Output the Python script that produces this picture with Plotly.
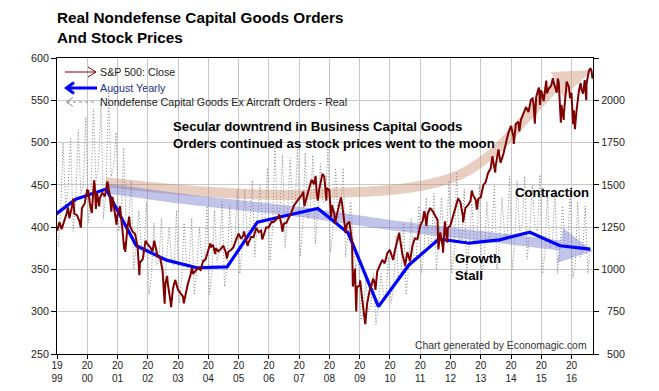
import plotly.graph_objects as go
import pandas as pd

# ---------------- data ----------------
years = list(range(1999, 2017))
year_tick_labels = [f"{str(y)[:2]}<br>{str(y)[2:]}" for y in years]

# S&P 500 month-end closes, Jan 1999 .. Aug 2016
sp_close = [
    1279.6, 1238.3, 1286.4, 1335.2, 1301.8, 1372.7, 1328.7, 1320.4, 1282.7, 1362.9, 1388.9, 1469.3,
    1394.5, 1366.4, 1498.6, 1452.4, 1420.6, 1454.6, 1430.8, 1517.7, 1436.5, 1429.4, 1315.2, 1320.3,
    1366.0, 1239.9, 1160.3, 1249.5, 1255.8, 1224.4, 1211.2, 1133.6, 1040.9, 1059.8, 1139.5, 1148.1,
    1130.2, 1106.7, 1147.4, 1076.9, 1067.1, 989.8, 911.6, 916.1, 815.3, 885.8, 936.3, 879.8,
    855.7, 841.2, 848.2, 916.9, 963.6, 974.5, 990.3, 1008.0, 996.0, 1050.7, 1058.2, 1111.9,
    1131.1, 1144.9, 1126.2, 1107.3, 1120.7, 1140.8, 1101.7, 1104.2, 1114.6, 1130.2, 1173.8, 1211.9,
    1181.3, 1203.6, 1180.6, 1156.9, 1191.5, 1191.3, 1234.2, 1220.3, 1228.8, 1207.0, 1249.5, 1248.3,
    1280.1, 1280.7, 1294.9, 1310.6, 1270.1, 1270.2, 1276.7, 1303.8, 1335.9, 1377.9, 1400.6, 1418.3,
    1438.2, 1406.8, 1420.9, 1482.4, 1530.6, 1503.4, 1455.3, 1474.0, 1527.0, 1549.4, 1481.1, 1468.4,
    1378.6, 1330.6, 1322.7, 1385.6, 1400.4, 1280.0, 1267.4, 1282.8, 1166.4, 968.8, 896.2, 903.3,
    825.9, 735.1, 797.9, 872.8, 919.1, 919.3, 987.5, 1020.6, 1057.1, 1036.2, 1095.6, 1115.1,
    1073.9, 1104.5, 1169.4, 1186.7, 1089.4, 1030.7, 1101.6, 1049.3, 1141.2, 1183.3, 1180.6, 1257.6,
    1286.1, 1327.2, 1325.8, 1363.6, 1345.2, 1320.6, 1292.3, 1218.9, 1131.4, 1253.3, 1247.0, 1257.6,
    1312.4, 1365.7, 1408.5, 1397.9, 1310.3, 1362.2, 1379.3, 1406.6, 1440.7, 1412.2, 1416.2, 1426.2,
    1498.1, 1514.7, 1569.2, 1597.6, 1630.7, 1606.3, 1685.7, 1633.0, 1681.6, 1756.5, 1805.8, 1848.4,
    1782.6, 1859.5, 1872.3, 1883.9, 1923.6, 1960.2, 1930.7, 2003.4, 1972.3, 2018.1, 2067.6, 2058.9,
    1995.0, 2104.5, 2067.9, 2085.5, 2107.4, 2063.1, 2104.0, 1972.2, 1920.0, 2079.4, 2080.4, 2043.9,
    1940.2, 1932.2, 2059.7, 2065.3, 2096.9, 2098.9, 2173.6, 2170.9,
]

# intra-month turning points of the S&P 500
sp_turn_dates = [
    "1999-01-04", "1999-05-13", "1999-07-16", "1999-10-15", "2000-01-14", "2000-02-25",
    "2000-03-24", "2000-04-14", "2000-05-24", "2000-09-01", "2000-10-18", "2000-12-20",
    "2001-01-30", "2001-03-22", "2001-04-04", "2001-05-21", "2001-09-21", "2001-12-05",
    "2002-03-19", "2002-07-23", "2002-08-22", "2002-10-09", "2002-11-27", "2003-03-11",
    "2003-06-17", "2004-01-26", "2004-03-24", "2004-08-12", "2005-03-07", "2005-04-20",
    "2005-08-02", "2005-10-13", "2006-05-05", "2006-06-13", "2007-02-20", "2007-03-05",
    "2007-07-19", "2007-08-15", "2007-10-09", "2007-11-26", "2008-01-22", "2008-03-10",
    "2008-05-19", "2008-07-15", "2008-10-10", "2008-11-04", "2008-11-20", "2009-01-06",
    "2009-03-09", "2009-06-12", "2009-07-10", "2010-02-08", "2010-04-23", "2010-07-02",
    "2011-02-18", "2011-03-16", "2011-04-29", "2011-08-08", "2011-10-03", "2011-10-27",
    "2011-11-25", "2012-04-02", "2012-06-01", "2012-09-14", "2012-11-15", "2013-05-21",
    "2013-06-24", "2013-08-02", "2013-08-27", "2014-02-03", "2014-04-11", "2014-09-18",
    "2014-10-15", "2014-12-05", "2014-12-16", "2015-03-02", "2015-03-11", "2015-05-21",
    "2015-07-07", "2015-07-20", "2015-08-25", "2015-09-29", "2015-11-03", "2015-12-14",
    "2016-01-20", "2016-02-11", "2016-04-20", "2016-05-19", "2016-06-08", "2016-06-27",
    "2016-08-15", "2016-09-09", "2016-09-15",
]
sp_turn_values = [
    1228, 1367, 1418, 1247, 1465, 1333,
    1527, 1357, 1373, 1520, 1342, 1264,
    1373, 1117, 1103, 1312, 966, 1170,
    1170, 797, 962, 777, 938, 800,
    1011, 1155, 1091, 1064, 1225, 1138,
    1245, 1177, 1325, 1223, 1460, 1374,
    1553, 1407, 1565, 1407, 1310, 1273,
    1426, 1214, 899, 1005, 752, 935,
    677, 946, 879, 1056, 1217, 1022,
    1343, 1257, 1364, 1119, 1099, 1285,
    1159, 1419, 1278, 1466, 1353, 1669,
    1573, 1710, 1631, 1742, 1816, 2011,
    1862, 2075, 1973, 2117, 2041, 2131,
    2045, 2128, 1867, 1884, 2110, 2012,
    1859, 1829, 2102, 2040, 2119, 2001,
    2190, 2128, 2147,
]

# Nondefense capital goods ex aircraft orders - real, monthly Jan 1999 .. Aug 2016
orders_real = [
    378, 420, 500, 425, 445, 505, 395, 433, 515, 440, 450, 530,
    405, 445, 540, 455, 470, 548, 410, 445, 560, 460, 470, 512,
    395, 410, 494, 400, 405, 455, 350, 378, 420, 375, 365, 430,
    320, 345, 405, 355, 360, 410, 325, 361, 400, 360, 355, 420,
    310, 340, 405, 350, 355, 410, 320, 352, 400, 360, 358, 425,
    320, 350, 420, 360, 370, 430, 330, 353, 425, 375, 380, 445,
    345, 380, 445, 390, 400, 455, 365, 406, 450, 405, 410, 470,
    360, 400, 495, 410, 420, 485, 375, 414, 482, 425, 430, 500,
    365, 405, 488, 410, 420, 485, 380, 422, 475, 430, 430, 495,
    370, 400, 470, 410, 415, 470, 365, 393, 430, 380, 350, 370,
    290, 300, 340, 300, 305, 345, 285, 306, 345, 320, 320, 365,
    310, 330, 390, 340, 345, 405, 320, 355, 410, 360, 365, 425,
    345, 370, 435, 375, 380, 440, 350, 386, 435, 385, 390, 455,
    345, 370, 465, 385, 385, 445, 345, 381, 430, 380, 380, 450,
    340, 365, 430, 385, 390, 450, 350, 385, 435, 390, 390, 460,
    350, 380, 455, 395, 400, 460, 362, 394, 450, 400, 395, 462,
    345, 370, 440, 375, 380, 445, 345, 378, 425, 380, 375, 445,
    340, 355, 430, 365, 370, 425, 345, 374,
]

# August value of each year
aug_years = list(range(1998, 2017))
aug_values = [406, 433, 445, 378, 361, 352, 353, 406, 414, 422, 393, 306,
              355, 386, 381, 385, 394, 378, 374]

# hand-drawn trend arrows (decoration), left-axis units
tan_band_dates = ["2000-08-12", "2003-06-26", "2006-10-16", "2008-01-04", "2009-12-31",
                  "2011-04-25", "2012-04-22", "2013-05-27", "2014-07-09", "2015-07-08"]
tan_band_values = [453, 443, 438, 440, 444, 451, 462, 488, 530, 568.7]
tan_head_dates = ["2015-04-27", "2016-09-16", "2015-09-20"]
tan_head_values = [583.4, 585.8, 553.9]

blue_band_dates = ["2000-08-12", "2003-06-26", "2006-10-16", "2010-04-28", "2013-08-19",
                   "2015-08-14"]
blue_band_values = [446, 432, 419, 401, 387, 378.3]
blue_head_dates = ["2015-09-20", "2016-09-16", "2015-07-08"]
blue_head_values = [399.0, 371.8, 357.6]

# ---------------- build ----------------
FONT = "Liberation Sans, Arial, sans-serif"
sp_dates_monthly = pd.date_range("1999-01-01", periods=len(sp_close), freq="BME")
sp = pd.concat([
    pd.Series(sp_close, index=sp_dates_monthly),
    pd.Series(sp_turn_values, index=pd.to_datetime(sp_turn_dates)),
]).sort_index()

order_dates = pd.date_range("1999-01-01", periods=len(orders_real), freq="MS") + pd.Timedelta(days=14)
aug_dates = pd.to_datetime([f"{y}-08-15" for y in aug_years])

fig = go.Figure()

fig.add_trace(go.Scatter(
    x=order_dates, y=orders_real, mode="lines",
    line=dict(color="#858585", width=1, dash="1px,2px"), yaxis="y",
    name="Nondefense Capital Goods Ex Aircraft Orders - Real"))

def band(dates, values, head_dates, head_values, color, width):
    fig.add_trace(go.Scatter(
        x=pd.to_datetime(dates), y=values, mode="lines",
        line=dict(color=color, width=width, shape="spline", smoothing=1.0),
        opacity=0.42, yaxis="y", hoverinfo="skip", cliponaxis=False))
    fig.add_trace(go.Scatter(
        x=pd.to_datetime(head_dates), y=head_values, mode="lines", fill="toself",
        fillcolor=color, line=dict(width=0, color=color),
        opacity=0.42, yaxis="y", hoverinfo="skip", cliponaxis=False))

band(tan_band_dates, tan_band_values, tan_head_dates, tan_head_values, "rgb(200,140,110)", 10)
band(blue_band_dates, blue_band_values, blue_head_dates, blue_head_values, "rgb(110,115,205)", 10)

fig.add_trace(go.Scatter(
    x=sp.index, y=sp.values, mode="lines",
    line=dict(color="#800000", width=2), yaxis="y2", name="S&P 500: Close"))

fig.add_trace(go.Scatter(
    x=aug_dates, y=aug_values, mode="lines",
    line=dict(color="#0000ff", width=3.2), yaxis="y", name="August Yearly"))

# page body adds an 8px offset; target window positions of the plot box
OFF = 8
L, R, T, B = 57, 593, 58, 354
W, H = 659 - OFF, 391 - OFF

def PX(x):
    return (x - L) / (R - L)
def PY(y):
    return (B - y) / (B - T)

shapes = []
def seg(x0, y0, x1, y1, color, width, dash="solid"):
    shapes.append(dict(type="line", xref="paper", yref="paper",
                       x0=PX(x0), y0=PY(y0), x1=PX(x1), y1=PY(y1),
                       line=dict(color=color, width=width, dash=dash)))
def vee(pts, color, width):
    p = " L ".join(f"{PX(a):.5f},{PY(b):.5f}" for a, b in pts)
    shapes.append(dict(type="path", xref="paper", yref="paper", path="M " + p,
                       line=dict(color=color, width=width)))

seg(65, 72, 96, 72, "#800000", 1)
vee([(88, 67), (96, 72), (88, 77)], "#800000", 1)
seg(67, 88, 97, 88, "#0000ff", 3)
vee([(74, 82.5), (66.5, 88), (74, 93.5)], "#0000ff", 3)
seg(67, 102, 97, 102, "#8a8a8a", 1, "dot")
vee([(73, 97.5), (66.5, 102), (73, 106.5)], "#8a8a8a", 1)

ann = []
def text(x, y, s, size, color="#111", bold=False, xanchor="left", align="left", yanchor="middle"):
    ann.append(dict(xref="paper", yref="paper", x=PX(x), y=PY(y), text=(f"<b>{s}</b>" if bold else s),
                    showarrow=False, xanchor=xanchor, yanchor=yanchor, align=align,
                    font=dict(family=FONT, size=size, color=color), borderpad=0))

text(56, 8.5, "Real Nondefense Capital Goods Orders<br>And Stock Prices", 15.3, "#000", True,
     yanchor="top")
text(99, 72, "S&P 500: Close", 10.7, "#222")
text(99, 88, "August Yearly", 10.7, "#1c2f8c")
text(99, 102, "Nondefense Capital Goods Ex Aircraft Orders - Real", 10.7, "#222")
text(172, 135, "Secular downtrend in Business Capital Goods<br>Orders continued as stock prices went to the moon",
     13.2, "#000", True)
text(514, 193, "Contraction", 13.2, "#000", True)
text(454, 266.5, "Growth<br>Stall", 13.2, "#000", True)
text(588, 345, "Chart generated by Economagic.com", 10.4, "#333", xanchor="right")

right_vals = [500, 750, 1000, 1250, 1500, 1750, 2000, 2250]
right_text = [("\u2007" + str(v)) if v < 1000 else str(v) for v in right_vals]
right_text[-1] = ""

axis_common = dict(showline=True, linecolor="#000", linewidth=1, ticks="outside", automargin=False,
                   tickcolor="#000")
tick_font = dict(family=FONT, size=10.7, color="#222")

fig.update_layout(
    width=W, height=H,
    margin=dict(l=L - OFF, r=659 - R, t=T - OFF, b=391 - B, autoexpand=False),
    paper_bgcolor="white", plot_bgcolor="white",
    showlegend=False,
    shapes=shapes, annotations=ann,
    xaxis=dict(type="date", range=["1999-01-01", "2016-09-16"],
               tickvals=pd.to_datetime([f"{y}-01-01" for y in years]), ticktext=year_tick_labels,
               showgrid=True, gridcolor="#c8c8c8", gridwidth=1, mirror=True, ticklen=4,
               tickfont=dict(family=FONT, size=10, color="#222"), ticklabelstandoff=-2,
               **axis_common),
    yaxis=dict(range=[250, 600], tick0=250, dtick=50, showgrid=True, gridcolor="#c8c8c8",
               mirror=True, ticklen=5, zeroline=False, tickfont=tick_font, **axis_common),
    yaxis2=dict(range=[500, 2250], overlaying="y", side="right", tickvals=right_vals,
                ticktext=right_text, showgrid=False, ticklen=5, zeroline=False,
                tickfont=tick_font, **axis_common),
)

fig.write_html("out.html")
